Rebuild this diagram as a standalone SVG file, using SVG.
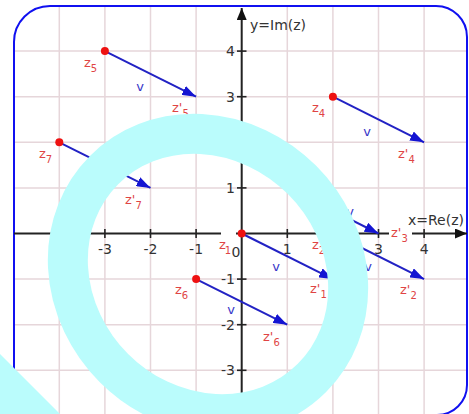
<svg xmlns="http://www.w3.org/2000/svg" width="469" height="414" viewBox="0 0 469 414">
<style>
text{font-family:"DejaVu Sans","Liberation Sans",sans-serif}
.grid line{stroke:#e6d6da;stroke-width:1.5}
.axis{stroke:#222;stroke-width:2;fill:none}
.tick{stroke:#222;stroke-width:1.6}
.tl{font-size:14px;fill:#333}
.yl{font-size:14px;fill:#333;text-anchor:end}
.vec{stroke:#2222c4;stroke-width:2;fill:none;marker-end:url(#ah)}
.dot{fill:#ee1111}
.lab{font-size:13px;fill:#e04444}
.sub{font-size:10px}
.v{font-size:13px;fill:#3535c8;text-anchor:middle}
.ring{fill:none;stroke:#bafcfc;stroke-width:40}
</style>
<defs>
<clipPath id="frame"><path d="M14,42 A36,36 0 0 1 50,6 H436 A31,31 0 0 1 467,37 V385 A30,30 0 0 1 437,415 H44 A30,30 0 0 1 14,385 Z"/></clipPath>
<marker id="ah" viewBox="0 0 14 10" refX="14" refY="5" markerWidth="14" markerHeight="10" markerUnits="userSpaceOnUse" orient="auto"><path d="M0,0 L14,5 L0,10 Z" fill="#1414d2"/></marker>
<marker id="axa" viewBox="0 0 12 10" refX="12" refY="5" markerWidth="12" markerHeight="10" markerUnits="userSpaceOnUse" orient="auto"><path d="M0,0 L12,5 L0,10 Z" fill="#111"/></marker>
</defs>
<rect width="469" height="414" fill="#fff"/>
<g id="grid" class="grid" clip-path="url(#frame)">
<line x1="59.3" y1="0" x2="59.3" y2="414"/>
<line x1="104.9" y1="0" x2="104.9" y2="414"/>
<line x1="150.5" y1="0" x2="150.5" y2="414"/>
<line x1="196.1" y1="0" x2="196.1" y2="414"/>
<line x1="287.3" y1="0" x2="287.3" y2="414"/>
<line x1="332.9" y1="0" x2="332.9" y2="414"/>
<line x1="378.5" y1="0" x2="378.5" y2="414"/>
<line x1="424.1" y1="0" x2="424.1" y2="414"/>
<line x1="0" y1="51.1" x2="469" y2="51.1"/>
<line x1="0" y1="96.7" x2="469" y2="96.7"/>
<line x1="0" y1="142.3" x2="469" y2="142.3"/>
<line x1="0" y1="187.9" x2="469" y2="187.9"/>
<line x1="0" y1="279.1" x2="469" y2="279.1"/>
<line x1="0" y1="324.7" x2="469" y2="324.7"/>
<line x1="0" y1="370.3" x2="469" y2="370.3"/>
</g>
<path id="frame-border" d="M14,42 A36,36 0 0 1 50,6 H436 A31,31 0 0 1 467,37 V385 A30,30 0 0 1 437,415 H44 A30,30 0 0 1 14,385 Z" fill="none" stroke="#1010f0" stroke-width="2"/>
<g id="axes">
<line class="axis" x1="14" y1="233.5" x2="467" y2="233.5" marker-end="url(#axa)"/>
<line class="axis" x1="241.7" y1="414" x2="241.7" y2="8" marker-end="url(#axa)"/>
<g class="tick">
<line x1="104.9" y1="229" x2="104.9" y2="238"/>
<line x1="150.5" y1="229" x2="150.5" y2="238"/>
<line x1="196.1" y1="229" x2="196.1" y2="238"/>
<line x1="287.3" y1="229" x2="287.3" y2="238"/>
<line x1="332.9" y1="229" x2="332.9" y2="238"/>
<line x1="378.5" y1="229" x2="378.5" y2="238"/>
<line x1="424.1" y1="229" x2="424.1" y2="238"/>
<line x1="237" y1="51.1" x2="246.5" y2="51.1"/>
<line x1="237" y1="96.7" x2="246.5" y2="96.7"/>
<line x1="237" y1="142.3" x2="246.5" y2="142.3"/>
<line x1="237" y1="187.9" x2="246.5" y2="187.9"/>
<line x1="237" y1="279.1" x2="246.5" y2="279.1"/>
<line x1="237" y1="324.7" x2="246.5" y2="324.7"/>
<line x1="237" y1="370.3" x2="246.5" y2="370.3"/>
</g>
<g class="tl" text-anchor="middle">
<text x="104.9" y="254">-3</text>
<text x="150.5" y="254">-2</text>
<text x="196.1" y="254">-1</text>
<text x="287.3" y="254">1</text>
<text x="378.5" y="254">3</text>
<text x="424.1" y="254">4</text>
</g>
<text class="yl" x="235" y="56">4</text>
<text class="yl" x="235" y="102">3</text>
<text class="yl" x="235" y="193">1</text>
<text class="yl" x="235" y="284">-1</text>
<text class="yl" x="235" y="330">-2</text>
<text class="yl" x="235" y="375">-3</text>
<text class="tl" x="250" y="30">y=Im(z)</text>
<text class="tl" x="408" y="225">x=Re(z)</text>
</g>
<g id="connectors">
<line class="vec" x1="104.9" y1="51.1" x2="196.1" y2="96.7"/>
<line class="vec" x1="59.3" y1="142.3" x2="150.5" y2="187.9"/>
<line class="vec" x1="332.9" y1="96.7" x2="424.1" y2="142.3"/>
<line class="vec" x1="241.7" y1="233.5" x2="332.9" y2="279.1"/>
<line class="vec" x1="196.1" y1="279.1" x2="287.3" y2="324.7"/>
<line class="vec" x1="332.9" y1="233.5" x2="424.1" y2="279.1"/>
<line class="vec" x1="287.3" y1="187.9" x2="378.5" y2="233.5"/>
</g>
<g id="vlabels">
<text class="v" x="140" y="91">v</text>
<text class="v" x="367" y="136">v</text>
<text class="v" x="276" y="271">v</text>
<text class="v" x="231" y="314">v</text>
<text class="v" x="368" y="271">v</text>
<text class="v" x="350" y="216">v</text>
</g>
<g id="z5"><circle class="dot" cx="104.9" cy="51.1" r="4"/><text class="lab" x="84" y="67">z<tspan class="sub" dy="5">5</tspan></text></g>
<g id="z5p"><text class="lab" x="172" y="112">z'<tspan class="sub" dy="5">5</tspan></text></g>
<g id="z7"><circle class="dot" cx="59.3" cy="142.3" r="4"/><text class="lab" x="39" y="158">z<tspan class="sub" dy="5">7</tspan></text></g>
<g id="z7p"><text class="lab" x="125" y="204">z'<tspan class="sub" dy="5">7</tspan></text></g>
<g id="z4"><circle class="dot" cx="332.9" cy="96.7" r="4"/><text class="lab" x="312" y="112">z<tspan class="sub" dy="5">4</tspan></text></g>
<g id="z4p"><text class="lab" x="398" y="158">z'<tspan class="sub" dy="5">4</tspan></text></g>
<g id="z1"><rect x="221" y="229" width="15" height="17" fill="#fff"/><text class="tl" x="236" y="257" text-anchor="middle" font-size="11">0</text><circle class="dot" cx="241.7" cy="233.5" r="4"/><text class="lab" x="219" y="249">z<tspan class="sub" dy="5" dx="-1">1</tspan></text></g>
<g id="z1p"><text class="lab" x="310" y="293">z'<tspan class="sub" dy="5">1</tspan></text></g>
<g id="z6"><circle class="dot" cx="196.1" cy="279.1" r="4"/><text class="lab" x="175" y="294">z<tspan class="sub" dy="5">6</tspan></text></g>
<g id="z6p"><text class="lab" x="263" y="341">z'<tspan class="sub" dy="5">6</tspan></text></g>
<g id="z2"><text class="lab" x="312" y="249">z<tspan class="sub" dy="5">2</tspan></text></g>
<g id="z2p"><text class="lab" x="400" y="294">z'<tspan class="sub" dy="5">2</tspan></text></g>
<g id="z3p"><rect x="389" y="225" width="23" height="20" fill="#fff"/><text class="lab" x="391" y="237">z'<tspan class="sub" dy="5">3</tspan></text></g>
<g id="overlay">
<ellipse class="ring" cx="208" cy="274" rx="147" ry="133" transform="rotate(45 208 274)"/>
<polygon points="0,354 60,414 0,414" fill="#bafcfc"/>
</g>
</svg>
